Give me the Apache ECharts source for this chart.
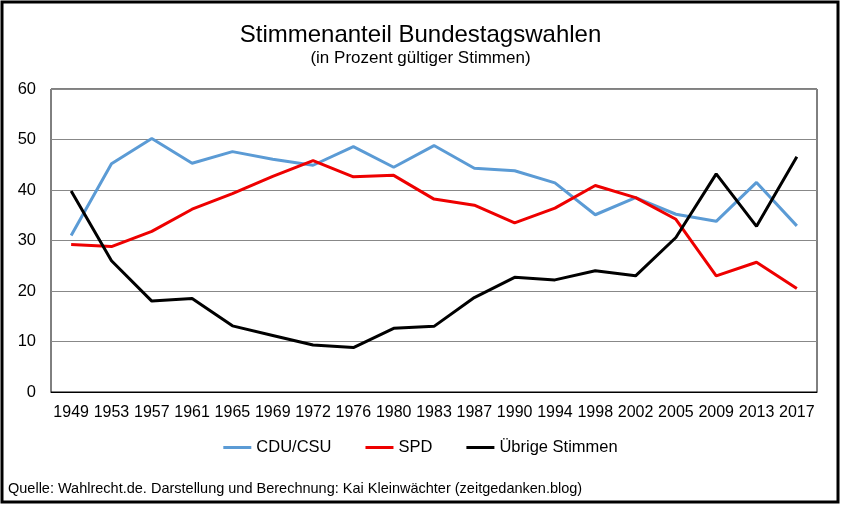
<!DOCTYPE html>
<html><head><meta charset="utf-8">
<script src="https://cdn.jsdelivr.net/npm/echarts@6/dist/echarts.min.js"></script>
<style>html,body{margin:0;padding:0;background:#fff}#c{width:841px;height:506px}</style>
</head><body><div id="c"></div>
<script>
const years = ['1949','1953','1957','1961','1965','1969','1972','1976','1980','1983','1987','1990','1994','1998','2002','2005','2009','2013','2017'];
const cdu = [31.0,45.2,50.2,45.3,47.6,46.1,44.9,48.6,44.5,48.8,44.3,43.8,41.4,35.1,38.5,35.2,33.8,41.5,32.9];
const spd = [29.2,28.8,31.8,36.2,39.3,42.7,45.8,42.6,42.9,38.2,37.0,33.5,36.4,40.9,38.5,34.2,23.0,25.7,20.5];
const uebrige = [39.8,26.0,18.0,18.5,13.1,11.2,9.3,8.8,12.6,13.0,18.7,22.7,22.2,24.0,23.0,30.6,43.2,32.8,46.6];
const yTicks = {min:0,max:60,interval:10};

const chart = echarts.init(document.getElementById('c'));
const F = 'Liberation Sans, Arial, sans-serif';
chart.setOption({
  animation:false,
  textStyle:{fontFamily:F},
  title:[
    {text:'Stimmenanteil Bundestagswahlen',left:'center',top:18,textStyle:{fontSize:24,fontWeight:'normal',color:'#000',fontFamily:F}},
    {text:'(in Prozent gültiger Stimmen)',left:'center',top:45,textStyle:{fontSize:17,fontWeight:'normal',color:'#000',fontFamily:F}},
    {text:'Quelle: Wahlrecht.de. Darstellung und Berechnung: Kai Kleinwächter (zeitgedanken.blog)',left:3,top:476,textStyle:{fontSize:14.5,fontWeight:'normal',color:'#000',fontFamily:F}}
  ],
  graphic:[{type:'rect',shape:{x:2,y:2,width:836,height:500},style:{fill:'none',stroke:'#000',lineWidth:3},z:100}],
  grid:{left:51,right:24,top:89,bottom:114,show:true,borderColor:'#000',borderWidth:1},
  legend:{bottom:45,left:'center',itemWidth:28,itemHeight:3,itemGap:34,icon:'rect',
    textStyle:{fontSize:16.5,color:'#000',fontFamily:F},
    data:['CDU/CSU','SPD','Übrige Stimmen']},
  xAxis:{type:'category',data:years,boundaryGap:true,
    axisLine:{lineStyle:{color:'#000'}},axisTick:{show:false},
    axisLabel:{color:'#000',fontSize:16,margin:13,interval:0,fontFamily:F}},
  yAxis:{type:'value',min:yTicks.min,max:yTicks.max,interval:yTicks.interval,
    axisLine:{show:false},axisTick:{show:false},
    axisLabel:{color:'#000',fontSize:16.5,margin:15,fontFamily:F},
    splitLine:{lineStyle:{color:'#888',width:1}}},
  series:[
    {name:'CDU/CSU',type:'line',data:cdu,symbol:'none',lineStyle:{color:'#5B9BD5',width:3},itemStyle:{color:'#5B9BD5'}},
    {name:'SPD',type:'line',data:spd,symbol:'none',lineStyle:{color:'#EE0000',width:3},itemStyle:{color:'#EE0000'}},
    {name:'Übrige Stimmen',type:'line',data:uebrige,symbol:'none',lineStyle:{color:'#000',width:3},itemStyle:{color:'#000'}}
  ]
});
</script></body></html>
